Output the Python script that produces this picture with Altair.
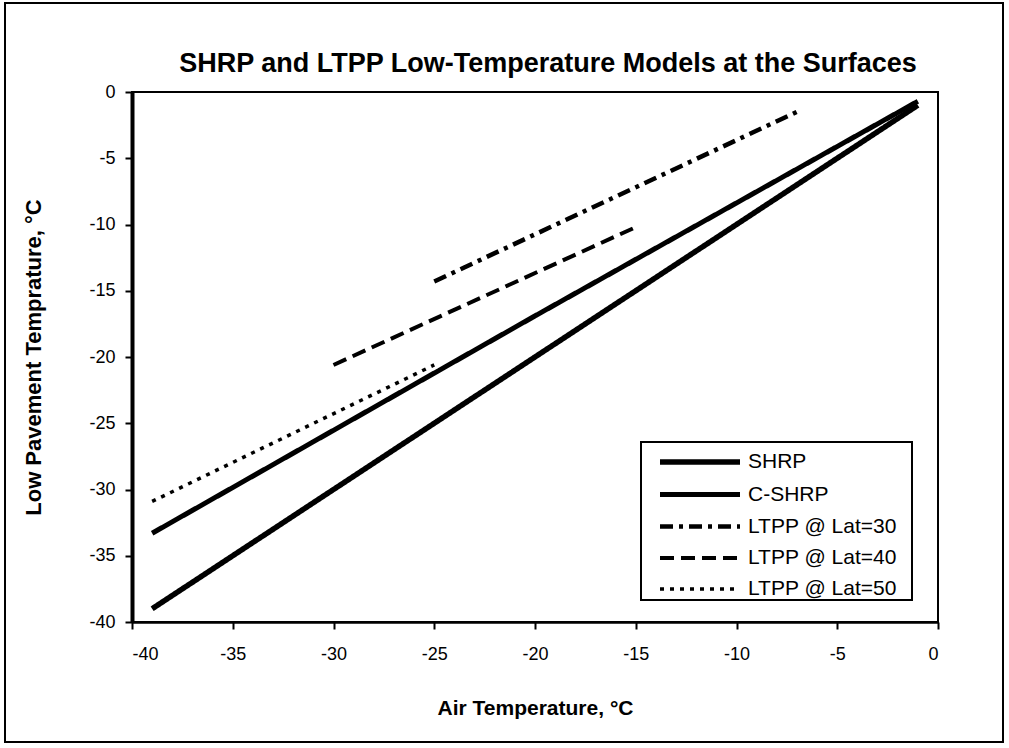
import altair as alt
import pandas as pd

# ---- data ----
series_names = ["SHRP", "C-SHRP", "LTPP @ Lat=30", "LTPP @ Lat=40", "LTPP @ Lat=50"]

shrp_air = [-39, -20, -1]
shrp_pav = [-39.0, -20.0, -1.0]

cshrp_air = [-39, -20, -1]
cshrp_pav = [-33.3, -16.9, -0.7]

lat30_air = [-25, -7]
lat30_pav = [-14.3, -1.5]

lat40_air = [-30, -15]
lat40_pav = [-20.6, -10.2]

lat50_air = [-39, -25]
lat50_pav = [-30.9, -20.6]

x_ticks = [-40, -35, -30, -25, -20, -15, -10, -5, 0]
y_ticks = [-40, -35, -30, -25, -20, -15, -10, -5, 0]

title_text = "SHRP and LTPP Low-Temperature Models at the Surfaces"

rows = []
for name, xs, ys in [
    (series_names[0], shrp_air, shrp_pav),
    (series_names[1], cshrp_air, cshrp_pav),
    (series_names[2], lat30_air, lat30_pav),
    (series_names[3], lat40_air, lat40_pav),
    (series_names[4], lat50_air, lat50_pav),
]:
    for i, (a, p) in enumerate(zip(xs, ys)):
        rows.append({"series": name, "air": a, "pav": p, "idx": i})
df = pd.DataFrame(rows)

FONT = "Liberation Sans"

leg = alt.Legend(
    title=None, orient="none", legendX=509, legendY=350,
    symbolType="M-1,0H7", symbolSize=400, labelFontSize=21, labelFont=FONT,
    labelColor="black",
    padding=7, rowPadding=9, labelOffset=65, symbolOffset=9,
    symbolStrokeColor="black", symbolFillColor="transparent",
)

lines = alt.Chart(df).mark_line(clip=True).encode(
    x=alt.X("air:Q", scale=alt.Scale(domain=[-40, 0], nice=False, zero=False),
            axis=alt.Axis(values=x_ticks, title="Air Temperature, °C",
                          labelExpr="'' + datum.value",
                          labelPadding=16, titleY=86, titleBaseline="middle",
                          titleFontSize=21, domainWidth=2.5)),
    y=alt.Y("pav:Q", scale=alt.Scale(domain=[-40, 0], nice=False, zero=False),
            axis=alt.Axis(values=y_ticks, title="Low  Pavement Temprature, °C",
                          labelExpr="'' + datum.value",
                          labelPadding=10, titleX=-99, titleY=265,
                          titleAngle=-90, titleAlign="center",
                          titleFontSize=22,
                          titleBaseline="middle", domainWidth=4)),
    color=alt.Color("series:N", scale=alt.Scale(domain=series_names, range=["black"] * 5), legend=leg),
    strokeDash=alt.StrokeDash("series:N", scale=alt.Scale(
        domain=series_names,
        range=[[1, 0], [1, 0], [13, 6, 4, 6], [14, 7], [4, 6]]), legend=leg),
    strokeWidth=alt.StrokeWidth("series:N", scale=alt.Scale(
        domain=series_names, range=[5.5, 3.5, 3.5, 3.5, 3.5]), legend=leg),
    order="idx:Q",
)

border = alt.Chart(pd.DataFrame({"a": [0]})).mark_rect(
    fillOpacity=0, stroke="black", strokeWidth=2, clip=False
).encode(x=alt.value(-127), x2=alt.value(871), y=alt.value(-89), y2=alt.value(650))

legend_box = alt.Chart(pd.DataFrame({"a": [0]})).mark_rect(
    fill="white", stroke="black", strokeWidth=2, clip=False
).encode(x=alt.value(509), x2=alt.value(780), y=alt.value(350), y2=alt.value(508))

title = alt.Chart(pd.DataFrame({"t": [title_text]})).mark_text(
    font=FONT, fontSize=27, fontWeight="bold", color="black",
    align="center", baseline="alphabetic", clip=False,
).encode(text="t:N", x=alt.value(416), y=alt.value(-20))

chart = alt.layer(border, lines, legend_box, title).properties(
    width=806, height=530,
    autosize=alt.AutoSizeParams(type="none"),
    padding={"left": 132, "top": 92, "right": 71, "bottom": 126},
    background="white",
).configure_view(stroke="black", strokeWidth=2).configure_axis(
    grid=False, domainColor="black", tickColor="black", tickSize=7, tickWidth=2,
    labelFont=FONT, labelFontSize=18, labelColor="black",
    titleFont=FONT, titleFontWeight="bold", titleColor="black",
)

chart.save("out.html", embed_options={"renderer": "svg", "actions": False})
